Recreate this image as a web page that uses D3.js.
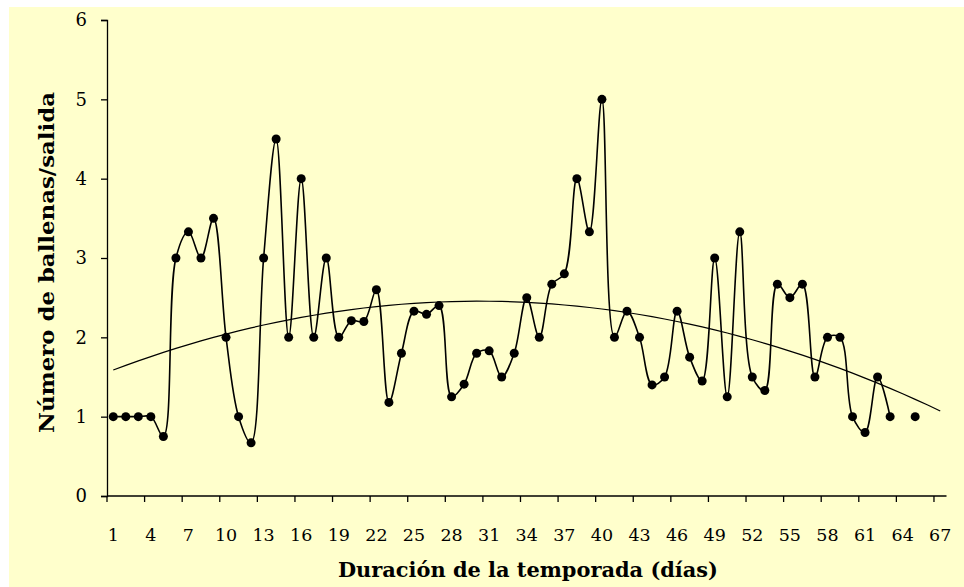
<!DOCTYPE html>
<html>
<head>
<meta charset="utf-8">
<script src="https://cdn.jsdelivr.net/npm/d3@7"></script>
<style>
  body { margin: 0; background: #fff; }
  svg text { font-family: Georgia, "DejaVu Serif", serif; fill: #000; }
</style>
</head>
<body>
<svg id="chart" width="964" height="587"></svg>
<script>
// days of the season (categories 1..67)
const days = d3.range(1, 68);
// whales per trip, null where there was no outing
const whales = [
  1, 1, 1, 1, 0.75, 3, 3.33, 3, 3.5, 2,
  1, 0.67, 3, 4.5, 2, 4, 2, 3, 2, 2.21,
  2.2, 2.6, 1.18, 1.8, 2.33, 2.29, 2.4, 1.25, 1.41, 1.8,
  1.83, 1.5, 1.8, 2.5, 2, 2.67, 2.8, 4, 3.33, 5,
  2, 2.33, 2, 1.4, 1.5, 2.33, 1.75, 1.45, 3, 1.25,
  3.33, 1.5, 1.33, 2.67, 2.5, 2.67, 1.5, 2, 2, 1,
  0.8, 1.5, 1, null, 1, null, null
];
const yTicks = [0, 1, 2, 3, 4, 5, 6];
const xTickLabels = d3.range(1, 68, 3);

const svg = d3.select("#chart");
const margin = { left: 107, top: 20, right: 964 - 946.5, bottom: 587 - 496 };

// yellow chart area
svg.append("rect")
    .attr("x", 9).attr("y", 7)
    .attr("width", 955).attr("height", 580)
    .attr("fill", "#ffffcc");

const x = d3.scaleBand()
    .domain(days)
    .range([margin.left, 946.5])
    .paddingInner(0).paddingOuter(0);
const cx = d => x(d) + x.bandwidth() / 2;

const y = d3.scaleLinear()
    .domain([0, 6])
    .range([496, margin.top]);

// x axis: ticks between categories every 3 days
const xAxisG = svg.append("g");
xAxisG.append("line")
    .attr("x1", margin.left).attr("x2", 946.5)
    .attr("y1", y(0)).attr("y2", y(0))
    .attr("stroke", "#000").attr("stroke-width", 1.3);
xAxisG.selectAll("line.tick")
    .data(xTickLabels)
    .join("line")
    .attr("class", "tick")
    .attr("x1", d => x(d)).attr("x2", d => x(d))
    .attr("y1", y(0)).attr("y2", y(0) + 6)
    .attr("stroke", "#000").attr("stroke-width", 1.3);
xAxisG.selectAll("text")
    .data(xTickLabels)
    .join("text")
    .attr("x", d => cx(d))
    .attr("y", 541)
    .attr("text-anchor", "middle")
    .style("font-size", "17.5px")
    .text(d => d);

// y axis
const yAxis = d3.axisLeft(y).tickValues(yTicks).tickFormat(d3.format("d"))
    .tickSize(6).tickPadding(14);
const yAxisG = svg.append("g")
    .attr("transform", `translate(${margin.left},0)`)
    .call(yAxis);
yAxisG.select(".domain").attr("stroke", "#000").attr("stroke-width", 1.3);
yAxisG.selectAll(".tick line").attr("stroke", "#000").attr("stroke-width", 1.3);
yAxisG.selectAll(".tick text")
    .style("font-size", "18px")
    .style("font-family", 'Georgia, "DejaVu Serif", serif');

// polynomial (order 2) trend line fitted to the observations
const obs = days.map((d, i) => [d, whales[i]]).filter(p => p[1] != null);
function quadFit(pts) {
  let s = [0, 0, 0, 0, 0], t = [0, 0, 0];
  pts.forEach(([px, py]) => {
    for (let k = 0; k < 5; k++) s[k] += Math.pow(px, k);
    for (let k = 0; k < 3; k++) t[k] += py * Math.pow(px, k);
  });
  const A = [[s[0], s[1], s[2], t[0]], [s[1], s[2], s[3], t[1]], [s[2], s[3], s[4], t[2]]];
  for (let i = 0; i < 3; i++) {
    for (let j = i + 1; j < 3; j++) {
      const f = A[j][i] / A[i][i];
      for (let k = i; k < 4; k++) A[j][k] -= f * A[i][k];
    }
  }
  const c = [0, 0, 0];
  for (let i = 2; i >= 0; i--) {
    let v = A[i][3];
    for (let k = i + 1; k < 3; k++) v -= A[i][k] * c[k];
    c[i] = v / A[i][i];
  }
  return c;
}
const coef = quadFit(obs);
const trend = days.map(d => [d, coef[0] + coef[1] * d + coef[2] * d * d]);

svg.append("path")
    .datum(trend)
    .attr("fill", "none")
    .attr("stroke", "#000")
    .attr("stroke-width", 1.2)
    .attr("d", d3.line().x(d => cx(d[0])).y(d => y(d[1])));

// smoothed data line
const line = d3.line()
    .defined(d => d[1] != null)
    .x(d => cx(d[0]))
    .y(d => y(d[1]))
    .curve(d3.curveCatmullRom.alpha(0.5));

svg.append("path")
    .datum(days.map((d, i) => [d, whales[i]]))
    .attr("fill", "none")
    .attr("stroke", "#000")
    .attr("stroke-width", 1.6)
    .attr("d", line);

svg.append("g")
    .selectAll("circle")
    .data(obs)
    .join("circle")
    .attr("cx", d => cx(d[0]))
    .attr("cy", d => y(d[1]))
    .attr("r", 4.5)
    .attr("fill", "#000");

// axis titles
svg.append("text")
    .attr("x", 528)
    .attr("y", 577)
    .attr("text-anchor", "middle")
    .attr("textLength", 380)
    .attr("lengthAdjust", "spacingAndGlyphs")
    .style("font-size", "20.5px")
    .style("font-weight", "bold")
    .text("Duración de la temporada (días)");

svg.append("text")
    .attr("transform", "translate(54,262.5) rotate(-90)")
    .attr("text-anchor", "middle")
    .attr("textLength", 341)
    .attr("lengthAdjust", "spacingAndGlyphs")
    .style("font-size", "21px")
    .style("font-weight", "bold")
    .text("Número de ballenas/salida");
</script>
</body>
</html>
